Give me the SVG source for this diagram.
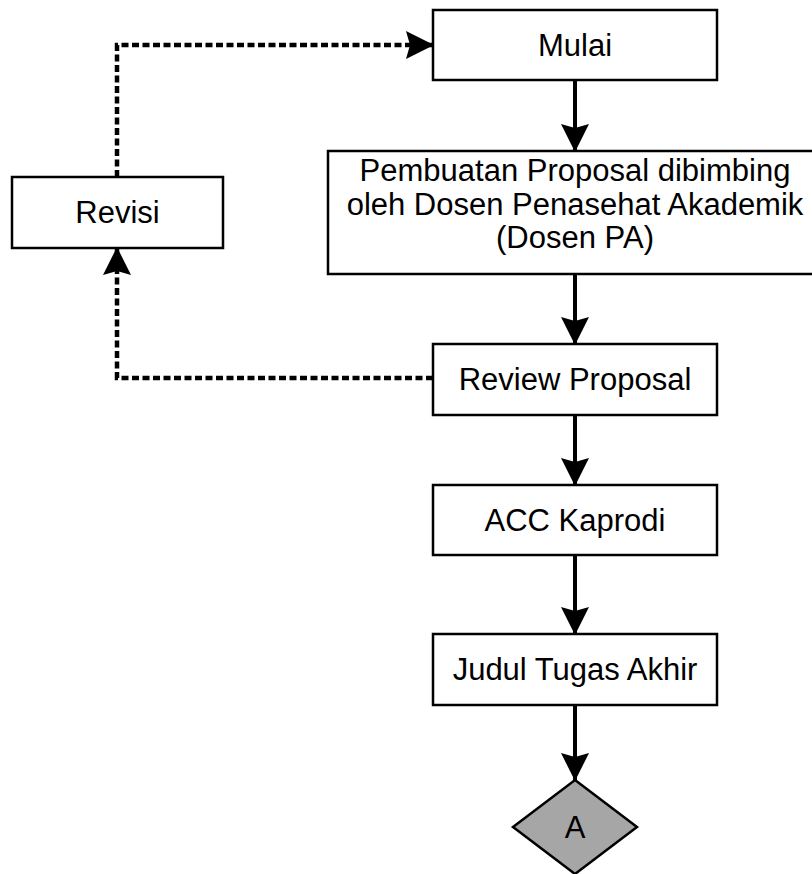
<svg xmlns="http://www.w3.org/2000/svg" width="812" height="874" viewBox="0 0 812 874">
<style>
.box{fill:#fff;stroke:#000;stroke-width:2.5}
.t{font-family:"Liberation Sans",Arial,sans-serif;font-size:31px;fill:#000;text-anchor:middle}
.solid{fill:none;stroke:#000;stroke-width:4}
.dash{fill:none;stroke:#000;stroke-width:4.5;stroke-dasharray:7 3.5}
</style>
<defs>
<marker id="ah" viewBox="0 0 28 28" refX="27" refY="14" markerWidth="28" markerHeight="28" markerUnits="userSpaceOnUse" orient="auto">
<path d="M28,14 L0,0 L4,14 L0,28 Z" fill="#000"/>
</marker>
</defs>
<rect width="812" height="874" fill="#fff"/>
<g id="connectors">
<line class="solid" x1="575" y1="80" x2="575" y2="151" marker-end="url(#ah)"/>
<line class="solid" x1="575" y1="274" x2="575" y2="344" marker-end="url(#ah)"/>
<line class="solid" x1="575" y1="415" x2="575" y2="485" marker-end="url(#ah)"/>
<line class="solid" x1="575" y1="555" x2="575" y2="634" marker-end="url(#ah)"/>
<line class="solid" x1="575" y1="705" x2="575" y2="780" marker-end="url(#ah)"/>
<path class="dash" d="M117,177 V45 H433" marker-end="url(#ah)"/>
<path class="dash" d="M433,378 H117 V248" marker-end="url(#ah)"/>
</g>
<g id="mulai">
<rect class="box" x="433" y="10" width="284" height="70"/>
<text class="t" x="575" y="56">Mulai</text>
</g>
<g id="pembuatan">
<rect class="box" x="328" y="151" width="494" height="123"/>
<text class="t" x="575" y="181">Pembuatan Proposal dibimbing</text>
<text class="t" x="575" y="214.5">oleh Dosen Penasehat Akademik</text>
<text class="t" x="575" y="248">(Dosen PA)</text>
</g>
<g id="revisi">
<rect class="box" x="12" y="177" width="211" height="71"/>
<text class="t" x="117.5" y="223">Revisi</text>
</g>
<g id="review">
<rect class="box" x="433" y="344" width="284" height="71"/>
<text class="t" x="575" y="390">Review Proposal</text>
</g>
<g id="acc">
<rect class="box" x="433" y="485" width="284" height="70"/>
<text class="t" x="575" y="531">ACC Kaprodi</text>
</g>
<g id="judul">
<rect class="box" x="433" y="634" width="284" height="71"/>
<text class="t" x="575" y="680">Judul Tugas Akhir</text>
</g>
<g id="a">
<path d="M575,780 L637,827 L575,874 L513,827 Z" fill="#a6a6a6" stroke="#000" stroke-width="2.5"/>
<text class="t" x="575" y="838">A</text>
</g>
</svg>
